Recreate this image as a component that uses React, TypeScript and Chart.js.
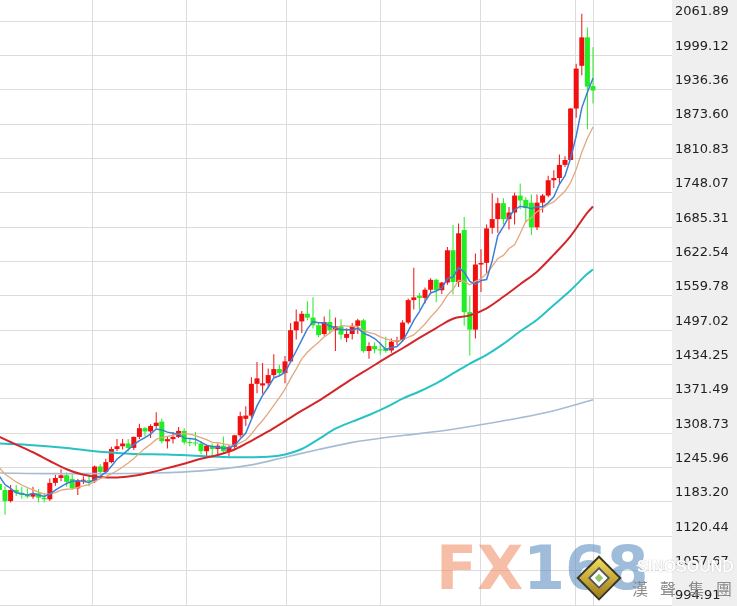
import React, { useEffect, useRef } from 'react';
import { Chart, registerables } from 'chart.js';

Chart.register(...registerables);

// Weekly gold candles (index 0 = first, partially visible, week)
const opens = [
  1216, 1205, 1185, 1205, 1200, 1196, 1193, 1199, 1191, 1188,
  1218, 1227, 1232, 1225, 1208, 1222, 1223, 1221, 1248, 1238,
  1256, 1280, 1285, 1290, 1282, 1302, 1318, 1312, 1322, 1330,
  1294, 1298, 1302, 1313, 1292, 1291, 1290, 1276, 1286, 1280,
  1286, 1276, 1284, 1305, 1335, 1341, 1399, 1396, 1400, 1415,
  1426, 1419, 1440, 1497, 1513, 1527, 1520, 1506, 1490, 1512,
  1497, 1504, 1483, 1490, 1505, 1515, 1459, 1468, 1462, 1464,
  1460, 1476, 1479, 1511, 1552, 1560, 1556, 1571, 1589, 1570,
  1584, 1643, 1585, 1680, 1530, 1498, 1617, 1620, 1684, 1700,
  1729, 1700, 1712, 1743, 1735, 1730, 1685, 1730, 1743, 1771,
  1775, 1799, 1808, 1902, 1980, 2032, 1943,
];
const highs = [
  1220, 1212, 1214, 1214, 1211, 1208, 1211, 1207, 1200, 1226,
  1233, 1243, 1237, 1237, 1225, 1230, 1230, 1250, 1252, 1262,
  1284, 1298, 1298, 1298, 1303, 1326, 1320, 1325, 1347, 1335,
  1303, 1311, 1320, 1318, 1300, 1311, 1294, 1288, 1290, 1290,
  1303, 1287, 1306, 1348, 1358, 1411, 1439, 1437, 1427, 1453,
  1434, 1450, 1510, 1535, 1532, 1550, 1557, 1510, 1522, 1535,
  1520, 1517, 1500, 1510, 1518, 1518, 1475, 1475, 1475, 1485,
  1482, 1485, 1515, 1555, 1611, 1565, 1575, 1592, 1591, 1585,
  1649, 1689, 1692, 1704, 1560, 1637, 1645, 1690, 1747, 1739,
  1738, 1722, 1748, 1765, 1740, 1745, 1745, 1746, 1779, 1789,
  1818, 1815, 1903, 1984, 2075, 2050, 2014,
];
const lows = [
  1195, 1160, 1182, 1194, 1189, 1190, 1189, 1182, 1182, 1185,
  1213, 1221, 1211, 1205, 1196, 1216, 1212, 1218, 1233, 1236,
  1254, 1276, 1279, 1276, 1278, 1298, 1303, 1300, 1318, 1290,
  1281, 1290, 1300, 1288, 1285, 1285, 1271, 1266, 1267, 1266,
  1273, 1266, 1280, 1301, 1322, 1336, 1382, 1381, 1391, 1411,
  1413, 1400, 1437, 1480, 1492, 1515, 1500, 1484, 1487, 1490,
  1459, 1480, 1475, 1480, 1490, 1456, 1445, 1455, 1452, 1456,
  1456, 1470, 1477, 1508, 1535, 1535, 1546, 1563, 1548, 1563,
  1580, 1562, 1576, 1505, 1451, 1482, 1567, 1600, 1673, 1675,
  1690, 1681, 1690, 1718, 1693, 1671, 1680, 1712, 1740, 1757,
  1763, 1795, 1808, 1885, 1963, 1864, 1911,
];
const closes = [
  1205, 1185, 1205, 1200, 1196, 1193, 1199, 1191, 1188, 1218,
  1227, 1232, 1220, 1208, 1222, 1223, 1221, 1248, 1238, 1256,
  1280, 1285, 1290, 1282, 1302, 1318, 1312, 1322, 1328, 1294,
  1298, 1302, 1313, 1292, 1291, 1290, 1276, 1286, 1280, 1286,
  1276, 1284, 1305, 1340, 1341, 1399, 1409, 1400, 1415, 1426,
  1419, 1440, 1497, 1513, 1527, 1520, 1506, 1488, 1512, 1497,
  1504, 1489, 1490, 1505, 1515, 1459, 1468, 1462, 1460, 1459,
  1476, 1479, 1511, 1552, 1557, 1556, 1571, 1589, 1570, 1584,
  1643, 1585, 1674, 1530, 1498, 1617, 1620, 1683, 1700, 1729,
  1700, 1712, 1743, 1734, 1720, 1685, 1730, 1743, 1771, 1775,
  1799, 1808, 1902, 1975, 2032, 1942, 1935,
];

// Moving-average lines
const ma5 = [
  1230, 1215, 1208, 1200, 1198.2, 1195.8, 1198.6, 1195.8, 1193.4, 1197.8,
  1204.6, 1211.2, 1217, 1221, 1221.8, 1221, 1218.8, 1224.4, 1230.4, 1237.2,
  1248.6, 1261.4, 1269.8, 1278.6, 1287.8, 1295.4, 1300.8, 1307.2, 1316.4, 1314.8,
  1310.8, 1308.8, 1307, 1299.8, 1299.2, 1297.6, 1292.4, 1287, 1284.6, 1283.6,
  1280.8, 1282.4, 1286.2, 1298.2, 1309.2, 1333.8, 1358.8, 1377.8, 1392.8, 1409.8,
  1413.8, 1420, 1439.4, 1459, 1479.2, 1499.4, 1512.6, 1510.8, 1510.6, 1504.6,
  1501.4, 1498, 1498.4, 1497, 1500.6, 1491.6, 1487.4, 1481.8, 1472.8, 1461.6,
  1465, 1467.2, 1477, 1495.4, 1515, 1531, 1549.4, 1565, 1568.6, 1574,
  1591.4, 1594.2, 1611.2, 1603.2, 1586, 1580.8, 1587.8, 1589.6, 1623.6, 1669.8,
  1686.4, 1704.8, 1716.8, 1723.6, 1721.8, 1718.8, 1722.4, 1722.4, 1729.8, 1740.8,
  1763.6, 1779.2, 1811, 1851.8, 1903.2, 1931.8, 1957.2,
];
const ma10 = [
  1245.4, 1234.1, 1226.8, 1219.8, 1214.1, 1209.3, 1205.1, 1201.1, 1197.6, 1198,
  1200.2, 1204.9, 1206.4, 1207.2, 1209.8, 1212.8, 1215, 1220.7, 1225.7, 1229.5,
  1234.8, 1240.1, 1247.1, 1254.5, 1262.5, 1272, 1281.1, 1288.5, 1297.5, 1301.3,
  1303.1, 1304.8, 1307.1, 1308.1, 1307, 1304.2, 1300.6, 1297, 1292.2, 1291.4,
  1289.2, 1287.4, 1286.6, 1291.4, 1296.4, 1307.3, 1320.6, 1332, 1345.5, 1359.5,
  1373.8, 1389.4, 1408.6, 1425.9, 1444.5, 1456.6, 1466.3, 1475.1, 1484.8, 1491.9,
  1500.4, 1505.3, 1504.6, 1503.8, 1502.6, 1496.5, 1492.7, 1490.1, 1484.9, 1481.1,
  1478.3, 1477.3, 1479.4, 1484.1, 1488.3, 1498, 1508.3, 1521, 1532, 1544.5,
  1561.2, 1571.8, 1588.1, 1585.9, 1580, 1586.1, 1591, 1600.4, 1613.4, 1627.9,
  1633.6, 1646.3, 1653.2, 1673.6, 1695.8, 1702.6, 1713.6, 1719.6, 1726.7, 1731.3,
  1741.2, 1750.8, 1766.7, 1790.8, 1822, 1847.7, 1868.2,
];
const ma30Weeks = [0, 3, 6, 9, 12, 15, 18, 21, 24, 27, 30, 33, 36, 39, 42, 45, 48, 51, 54, 57, 60, 63, 66, 69, 72, 75, 78, 81, 84, 87, 90, 93, 96, 99, 102, 105, 106];
const ma30 = [1302, 1288, 1274, 1258, 1243, 1233, 1229, 1228, 1231, 1237, 1245, 1253, 1262, 1269, 1279, 1295, 1312, 1331, 1350, 1368, 1388, 1408, 1427, 1446, 1464, 1483, 1501, 1518, 1524, 1537, 1558, 1581, 1604, 1635, 1669, 1712, 1723];
const ma60Weeks = [0, 6, 12, 18, 24, 30, 36, 42, 48, 51, 54, 57, 60, 63, 66, 69, 72, 75, 78, 81, 84, 87, 90, 93, 96, 99, 102, 105, 106];
const ma60 = [1290, 1287, 1282, 1275, 1271, 1270, 1267, 1265, 1266, 1270, 1280, 1298, 1317, 1330, 1342, 1356, 1372, 1385, 1400, 1418, 1436, 1452, 1472, 1495, 1516, 1543, 1570, 1600, 1608];
const ma120Weeks = [0, 9, 18, 27, 36, 45, 51, 57, 63, 69, 75, 81, 87, 93, 99, 106];
const ma120 = [1236, 1235, 1235, 1236, 1240, 1251, 1265, 1279, 1292, 1301, 1308, 1316, 1326, 1337, 1350, 1370];

const yTicks = [994.91, 1057.67, 1120.44, 1183.2, 1245.96, 1308.73, 1371.49, 1434.25, 1497.02, 1559.78, 1622.54, 1685.31, 1748.07, 1810.83, 1873.6, 1936.36, 1999.12, 2061.89];
const xGridWeeks = [16.66, 33.45, 51.18, 68.14, 85.95, 102.91, 106];

const UP = '#f20f0f';
const DOWN = '#22ec22';

const axisBg = {
  id: 'axisBg',
  beforeDraw(chart: any) {
    const { ctx, chartArea, width, height } = chart;
    ctx.save();
    ctx.fillStyle = '#ffffff';
    ctx.fillRect(0, 0, width, height);
    ctx.fillStyle = '#efefef';
    ctx.fillRect(chartArea.right, 0, width - chartArea.right, height);
    ctx.restore();
  },
};

export default function App() {
  const ref = useRef<HTMLCanvasElement>(null);
  useEffect(() => {
    document.body.style.margin = '0';
    const idx = closes.map((_, i) => i);
    const colors = idx.map((i) => (closes[i] >= opens[i] ? UP : DOWN));
    const line = (xs: number[], ys: number[], color: string, w: number, order: number, smooth: boolean) => ({
      type: 'line' as const,
      data: ys.map((v, k) => ({ x: xs[k], y: v })),
      borderColor: color,
      borderWidth: w,
      pointRadius: 0,
      fill: false,
      order,
      cubicInterpolationMode: smooth ? ('monotone' as const) : ('default' as const),
      tension: 0,
    });
    const chart = new Chart(ref.current as HTMLCanvasElement, {
      type: 'bar',
      data: {
        datasets: [
          line(idx, ma5, '#3d7fd6', 1.5, 0, false),
          line(idx, ma10, '#e2a87e', 1.3, 1, false),
          line(ma30Weeks, ma30, '#d3262a', 2, 2, true),
          line(ma60Weeks, ma60, '#27c2c4', 2, 3, true),
          line(ma120Weeks, ma120, '#a6bcd2', 1.6, 4, true),
          {
            type: 'bar',
            data: idx.map((i) => ({ x: i, y: [opens[i], closes[i]] })),
            backgroundColor: colors,
            borderWidth: 0,
            grouped: false,
            categoryPercentage: 1,
            barPercentage: 0.9,
            maxBarThickness: 5,
            minBarLength: 1,
            order: 5,
          } as any,
          {
            type: 'bar',
            data: idx.map((i) => ({ x: i, y: [lows[i], highs[i]] })),
            backgroundColor: colors,
            borderWidth: 0,
            grouped: false,
            categoryPercentage: 1,
            barPercentage: 0.9,
            maxBarThickness: 1,
            order: 6,
          } as any,
        ],
      },
      options: {
        animation: false,
        responsive: false,
        devicePixelRatio: 1,
        layout: { padding: 0 },
        plugins: { legend: { display: false }, tooltip: { enabled: false } },
        events: [],
        scales: {
          x: {
            type: 'linear',
            min: 0.107,
            max: 120.107,
            offset: false,
            border: { display: false },
            grid: { color: '#dcdcdc', drawTicks: false, lineWidth: 1, offset: false },
            ticks: { display: false },
            afterBuildTicks: (s: any) => {
              s.ticks = xGridWeeks.map((v) => ({ value: v }));
            },
            afterFit: (s: any) => {
              s.height = 0;
            },
          },
          y: {
            type: 'linear',
            position: 'right',
            min: 993.12,
            max: 2100.26,
            border: { display: false },
            grid: { color: '#dcdcdc', drawTicks: false, lineWidth: 1 },
            ticks: {
              color: '#222222',
              font: { family: 'DejaVu Sans', size: 13 },
              padding: 3,
              labelOffset: -9,
              autoSkip: false,
              callback: (v: any) => Number(v).toFixed(2),
            },
            afterBuildTicks: (s: any) => {
              s.ticks = yTicks.map((v) => ({ value: v }));
            },
            afterFit: (s: any) => {
              s.width = 65;
              s.paddingTop = 0;
              s.paddingBottom = 0;
            },
          },
        },
      } as any,
      plugins: [axisBg],
    });
    return () => chart.destroy();
  }, []);

  return (
    <div style={{ position: 'fixed', left: 0, top: 0, width: 737, height: 606, overflow: 'hidden', background: '#fff' }}>
      <canvas ref={ref} width={737} height={606} style={{ display: 'block', width: 737, height: 606 }} />
      <div
        style={{
          position: 'absolute',
          left: 436,
          top: 538,
          font: 'bold 60px "DejaVu Sans"',
          lineHeight: '60px',
          whiteSpace: 'nowrap',
          pointerEvents: 'none',
        }}
      >
        <span style={{ color: 'rgba(238,135,95,0.55)' }}>FX</span>
        <span style={{ color: 'rgba(95,145,195,0.6)' }}>168</span>
      </div>
      <div
        style={{
          position: 'absolute',
          left: 583,
          top: 562,
          width: 32,
          height: 32,
          transform: 'rotate(45deg)',
          background: 'linear-gradient(135deg,#f4dc58,#a07c12)',
          border: '2px solid #3b3522',
          boxSizing: 'border-box',
        }}
      >
        <div style={{ position: 'absolute', left: 6, top: 6, width: 16, height: 16, background: '#ffffff', border: '2px solid #555', boxSizing: 'border-box' }}>
          <div style={{ position: 'absolute', left: 3, top: 3, width: 6, height: 6, background: '#94c66a' }} />
        </div>
      </div>
      <div
        style={{
          position: 'absolute',
          left: 637,
          top: 558,
          font: 'bold 16px "Liberation Sans"',
          color: '#ffffff',
          textShadow: '0 0 1px #9a9a9a',
          whiteSpace: 'nowrap',
          pointerEvents: 'none',
        }}
      >
        SINOSOUND
      </div>
      <div
        style={{
          position: 'absolute',
          left: 632,
          top: 576,
          font: '16px "Noto Sans CJK TC"',
          color: '#8a8a8a',
          letterSpacing: 12,
          whiteSpace: 'nowrap',
          pointerEvents: 'none',
        }}
      >
        漢聲集團
      </div>
    </div>
  );
}
